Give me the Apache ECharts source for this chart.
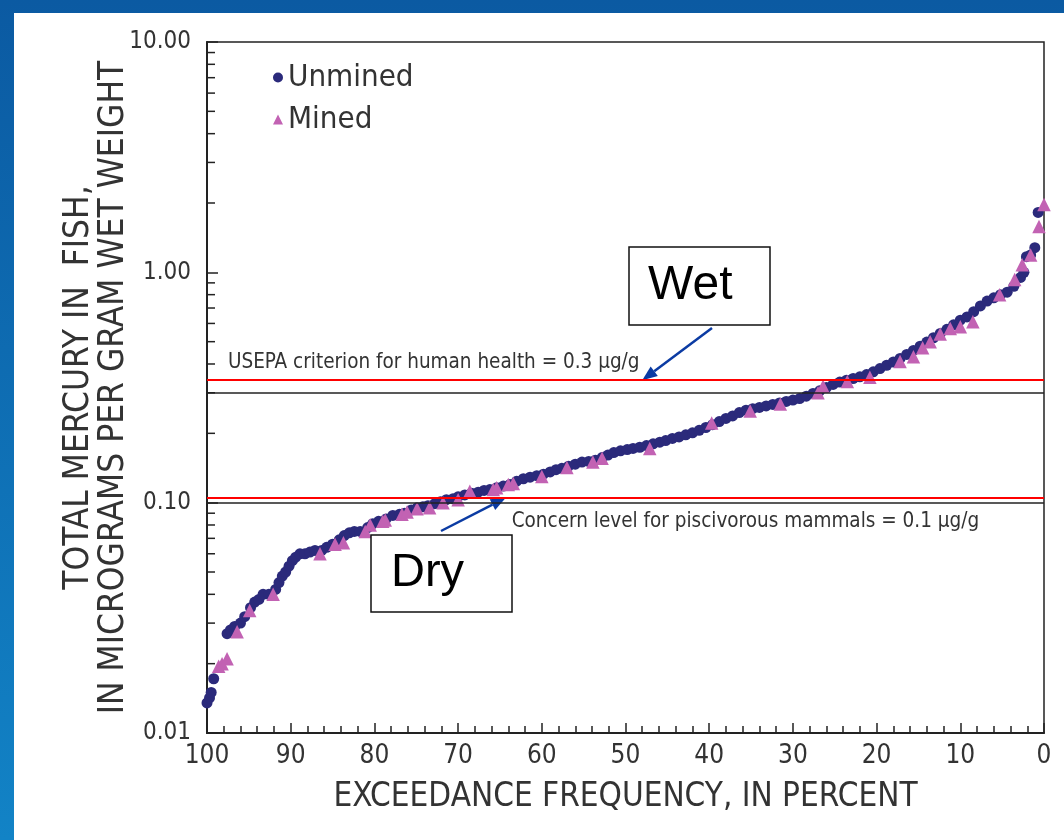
<!DOCTYPE html>
<html>
<head>
<meta charset="utf-8">
<script src="https://cdn.jsdelivr.net/npm/echarts@6/dist/echarts.min.js"></script>
<style>html,body{margin:0;padding:0;background:#fff}#main{width:1064px;height:840px}</style>
</head>
<body>
<div id="main"></div>
<script>
// ---------------- data ----------------
const seriesNames = ['Unmined', 'Mined'];
const xTickValues = [100, 90, 80, 70, 60, 50, 40, 30, 20, 10, 0];
const yTickLabels = ['0.01', '0.10', '1.00', '10.00'];
const yMinorTicks = [0.02,0.03,0.04,0.05,0.06,0.07,0.08,0.09,
                     0.2,0.3,0.4,0.5,0.6,0.7,0.8,0.9,
                     2,3,4,5,6,7,8,9];
const criterionValues = [0.3, 0.1];        // black reference lines
const criterionDrawn = [0.34, 0.105];      // red lines as drawn on the slide
const criterionTexts = ['USEPA criterion for human health = 0.3 \u00b5g/g',
                        'Concern level for piscivorous mammals = 0.1 \u00b5g/g'];
const calloutTexts = ['Wet', 'Dry'];

// [exceedance frequency %, total mercury ug/g]
const unmined = [
 [100,0.0135],[99.7,0.0142],[99.5,0.0150],[99.2,0.0172],[97.6,0.027],[97.2,0.028],[96.7,0.029],[96.0,0.030],
 [95.5,0.032],[94.8,0.035],[94.3,0.037],[93.8,0.038],[93.3,0.040],[92.6,0.040],[91.8,0.042],[91.4,0.045],
 [91.0,0.048],[90.6,0.050],[90.2,0.053],[89.8,0.056],[89.4,0.058],[88.9,0.060],[88.3,0.060],[87.7,0.061],
 [87.1,0.062],[86.3,0.062],[85.7,0.064],[85.0,0.066],[84.2,0.069],[83.6,0.072],[83.0,0.074],[82.4,0.075],
 [81.7,0.075],[80.8,0.078],[80.2,0.081],[79.5,0.083],[78.6,0.085],[77.8,0.088],[77.0,0.089],[76.4,0.090],
 [75.6,0.093],[74.9,0.095],[74.2,0.096],[73.6,0.097],[72.8,0.099],[72.1,0.101],[71.4,0.103],[70.6,0.104],
 [70.0,0.106],[69.2,0.108],[68.4,0.110],[67.6,0.111],[66.9,0.113],[66.2,0.114],[65.4,0.116],[64.6,0.118],
 [63.8,0.120],[63.0,0.124],[62.2,0.127],[61.4,0.129],[60.6,0.131],[59.8,0.133],[59.0,0.136],[58.3,0.139],
 [57.6,0.141],[56.8,0.144],[56.0,0.147],[55.2,0.150],[54.4,0.151],[53.6,0.153],[52.8,0.157],[52.1,0.161],
 [51.4,0.165],[50.6,0.168],[49.8,0.170],[49.1,0.172],[48.3,0.174],[47.5,0.177],[46.7,0.180],[45.9,0.183],
 [45.2,0.186],[44.4,0.190],[43.6,0.193],[42.8,0.197],[42.0,0.201],[41.2,0.206],[40.4,0.212],[39.6,0.218],
 [38.8,0.225],[38.0,0.232],[37.2,0.238],[36.4,0.246],[35.6,0.252],[34.8,0.256],[34.0,0.259],[33.2,0.263],
 [32.4,0.267],[31.6,0.271],[30.8,0.275],[30.0,0.279],[29.2,0.283],[28.4,0.290],[27.6,0.298],[26.8,0.306],
 [26.0,0.316],[25.2,0.326],[24.4,0.334],[23.6,0.340],[22.8,0.346],[22.0,0.352],[21.2,0.360],[20.4,0.370],
 [19.6,0.382],[18.8,0.395],[18.0,0.408],[17.2,0.423],[16.4,0.440],[15.6,0.458],[14.8,0.478],[14.0,0.498],
 [13.2,0.520],[12.4,0.543],[11.6,0.566],[10.8,0.592],[10.0,0.620],[9.2,0.640],[8.4,0.675],[7.6,0.715],
 [6.8,0.750],[6.0,0.775],[5.2,0.800],[4.4,0.820],[3.6,0.870],[2.8,0.950],[2.4,1.000],[2.1,1.170],
 [1.6,1.190],[1.1,1.280],[0.7,1.820]
];
const mined = [
 [98.6,0.0195],[98.2,0.0200],[97.6,0.0210],[96.4,0.0275],[94.9,0.034],[92.1,0.040],[86.5,0.060],[84.7,0.066],
 [83.7,0.067],[81.1,0.075],[80.5,0.080],[79.0,0.083],[78.7,0.084],[76.7,0.089],[76.1,0.091],[74.9,0.094],
 [73.4,0.095],[71.8,0.100],[70.0,0.103],[68.6,0.112],[65.8,0.114],[65.4,0.116],[64.0,0.120],[63.4,0.121],
 [60.0,0.130],[57.0,0.142],[53.9,0.150],[52.8,0.156],[47.1,0.172],[39.7,0.222],[35.1,0.250],[31.5,0.268],
 [27.0,0.300],[26.4,0.320],[23.5,0.336],[20.8,0.350],[17.2,0.410],[15.6,0.430],[14.5,0.470],[13.6,0.500],
 [12.4,0.540],[11.2,0.570],[10.0,0.580],[8.5,0.610],[5.3,0.800],[3.5,0.930],[2.6,1.080],[1.6,1.190],
 [0.6,1.580],[0.0,1.970]
];

// ---------------- chart ----------------
const FONT = "'Liberation Sans Narrow','DejaVu Sans Condensed','Arial Narrow',sans-serif";
const chart = echarts.init(document.getElementById('main'), null, {renderer: 'canvas'});

function arrow(x1, y1, x2, y2, color) {
  const dx = x2 - x1, dy = y2 - y1, L = Math.sqrt(dx*dx + dy*dy);
  const ux = dx / L, uy = dy / L, hl = 15, hw = 6;
  const bx = x2 - ux*hl, by = y2 - uy*hl;
  return {
    type: 'group', z: 200, children: [
      {type: 'line', shape: {x1: x1, y1: y1, x2: bx, y2: by}, style: {stroke: color, lineWidth: 2.5}},
      {type: 'polygon', shape: {points: [[x2, y2], [bx - uy*hw, by + ux*hw], [bx + uy*hw, by - ux*hw]]},
       style: {fill: color}}
    ]
  };
}

const option = {
  animation: false,
  backgroundColor: '#ffffff',
  textStyle: {fontFamily: FONT},
  grid: {left: 207, top: 42, right: 20, bottom: 107, show: true, borderColor: '#222', borderWidth: 1.5, backgroundColor: 'transparent'},
  legend: {
    data: [{name: seriesNames[0], icon: 'circle'}, {name: seriesNames[1], icon: 'triangle'}],
    orient: 'vertical', left: 268, top: 57, itemWidth: 10, itemHeight: 10, itemGap: 11,
    textStyle: {fontFamily: FONT, fontSize: 31, color: '#333'}
  },
  xAxis: {
    type: 'value', min: 0, max: 100, interval: 10, inverse: true,
    name: 'EXCEEDANCE FREQUENCY, IN PERCENT', nameLocation: 'middle', nameGap: 48,
    nameTextStyle: {fontFamily: FONT, fontSize: 33, color: '#333'},
    axisLine: {onZero: false, lineStyle: {color: '#222', width: 2}},
    axisTick: {inside: true, length: 10, lineStyle: {color: '#222', width: 1.5}},
    minorTick: {show: true, splitNumber: 5, length: 7, lineStyle: {color: '#222', width: 1.5}},
    axisLabel: {fontFamily: FONT, fontSize: 26, color: '#333', margin: 10,
      formatter: v => xTickValues.indexOf(v) >= 0 ? String(v) : ''},
    splitLine: {show: false}
  },
  yAxis: {
    type: 'log', logBase: 10, min: 0.01, max: 10,
    name: 'TOTAL MERCURY IN  FISH,\nIN MICROGRAMS PER GRAM WET WEIGHT', nameLocation: 'middle', nameRotate: 90,
    nameGap: 76, nameMoveOverlap: false,
    nameTextStyle: {fontFamily: FONT, fontSize: 35, color: '#333', lineHeight: 35},
    axisLine: {onZero: false, lineStyle: {color: '#222', width: 2}},
    axisTick: {inside: true, length: 11, lineStyle: {color: '#222', width: 1.5}},
    axisLabel: {fontFamily: FONT, fontSize: 24, color: '#333', margin: 16,
      formatter: v => {
        const i = Math.round(Math.log10(v)) + 2;
        return yTickLabels[i] !== undefined ? yTickLabels[i] : '';
      }},
    splitLine: {show: false}
  },
  series: [
    {
      name: 'minorTicks', type: 'custom', silent: true, z: 1,
      data: yMinorTicks.map(v => [100, v]),
      encode: {x: 0, y: 1},
      renderItem: function (params, api) {
        const p = api.coord([api.value(0), api.value(1)]);
        return {type: 'line', shape: {x1: p[0], y1: p[1], x2: p[0] + 8, y2: p[1]},
                style: {stroke: '#222', lineWidth: 1.5}};
      }
    },
    {
      name: seriesNames[0], type: 'scatter', symbol: 'circle', symbolSize: 11, z: 3,
      itemStyle: {color: '#2b2a7b', opacity: 1},
      data: unmined,
      markLine: {
        silent: true, symbol: ['none', 'none'], animation: false, precision: 5,
        data: [
          {yAxis: criterionValues[0], lineStyle: {color: '#222', width: 1.5, type: 'solid'}, label: {show: false}},
          {yAxis: criterionValues[1], lineStyle: {color: '#222', width: 1.5, type: 'solid'}, label: {show: false}},
          {yAxis: criterionDrawn[0], lineStyle: {color: '#ff0000', width: 2, type: 'solid'}, label: {show: false}},
          {yAxis: criterionDrawn[1], lineStyle: {color: '#ff0000', width: 2, type: 'solid'}, label: {show: false}}
        ]
      }
    },
    {
      name: seriesNames[1], type: 'scatter', symbol: 'triangle', symbolSize: 13.5, z: 4,
      itemStyle: {color: '#c262b3', opacity: 1},
      data: mined
    }
  ]
};
chart.setOption(option);

// annotations anchored to the chart's own scale
const pUsepa = chart.convertToPixel({gridIndex: 0}, [97.5, criterionDrawn[0]]);
const pConcern = chart.convertToPixel({gridIndex: 0}, [63.6, criterionValues[1]]);
const tipWet = chart.convertToPixel({gridIndex: 0}, [48.0, criterionDrawn[0]]);
const tipDry = chart.convertToPixel({gridIndex: 0}, [64.3, criterionDrawn[1]]);
const arrowColor = '#0b3ba3';

chart.setOption({
  graphic: [
    {type: 'rect', z: -100, silent: true, shape: {x: 0, y: 0, width: 1064, height: 840},
     style: {fill: new echarts.graphic.LinearGradient(0, 0, 0, 1, [{offset: 0, color: '#0b5aa2'}, {offset: 1, color: '#1283c6'}])}},
    {type: 'rect', z: -99, silent: true, shape: {x: 14, y: 13, width: 1050, height: 827}, style: {fill: '#ffffff'}},
    {type: 'text', z: 100, left: pUsepa[0], top: pUsepa[1] - 28,
     style: {text: criterionTexts[0], font: "20.5px " + FONT, fill: '#333'}},
    {type: 'text', z: 100, left: pConcern[0], top: pConcern[1] + 9,
     style: {text: criterionTexts[1], font: "20.5px " + FONT, fill: '#333'}},
    {type: 'rect', z: 150, shape: {x: 629, y: 247, width: 141, height: 78}, style: {fill: '#fff', stroke: '#111', lineWidth: 1.5}},
    {type: 'text', z: 151, left: 648, top: 262, style: {text: calloutTexts[0], font: "48px 'Liberation Sans', Arial, sans-serif", fill: '#000'}},
    {type: 'rect', z: 150, shape: {x: 371, y: 535, width: 141, height: 77}, style: {fill: '#fff', stroke: '#111', lineWidth: 1.5}},
    {type: 'text', z: 151, left: 391, top: 550, style: {text: calloutTexts[1], font: "47px 'Liberation Sans', Arial, sans-serif", fill: '#000'}},
    arrow(712, 328, tipWet[0], tipWet[1], arrowColor),
    arrow(441, 531, tipDry[0], tipDry[1], arrowColor)
  ]
});
</script>
</body>
</html>
